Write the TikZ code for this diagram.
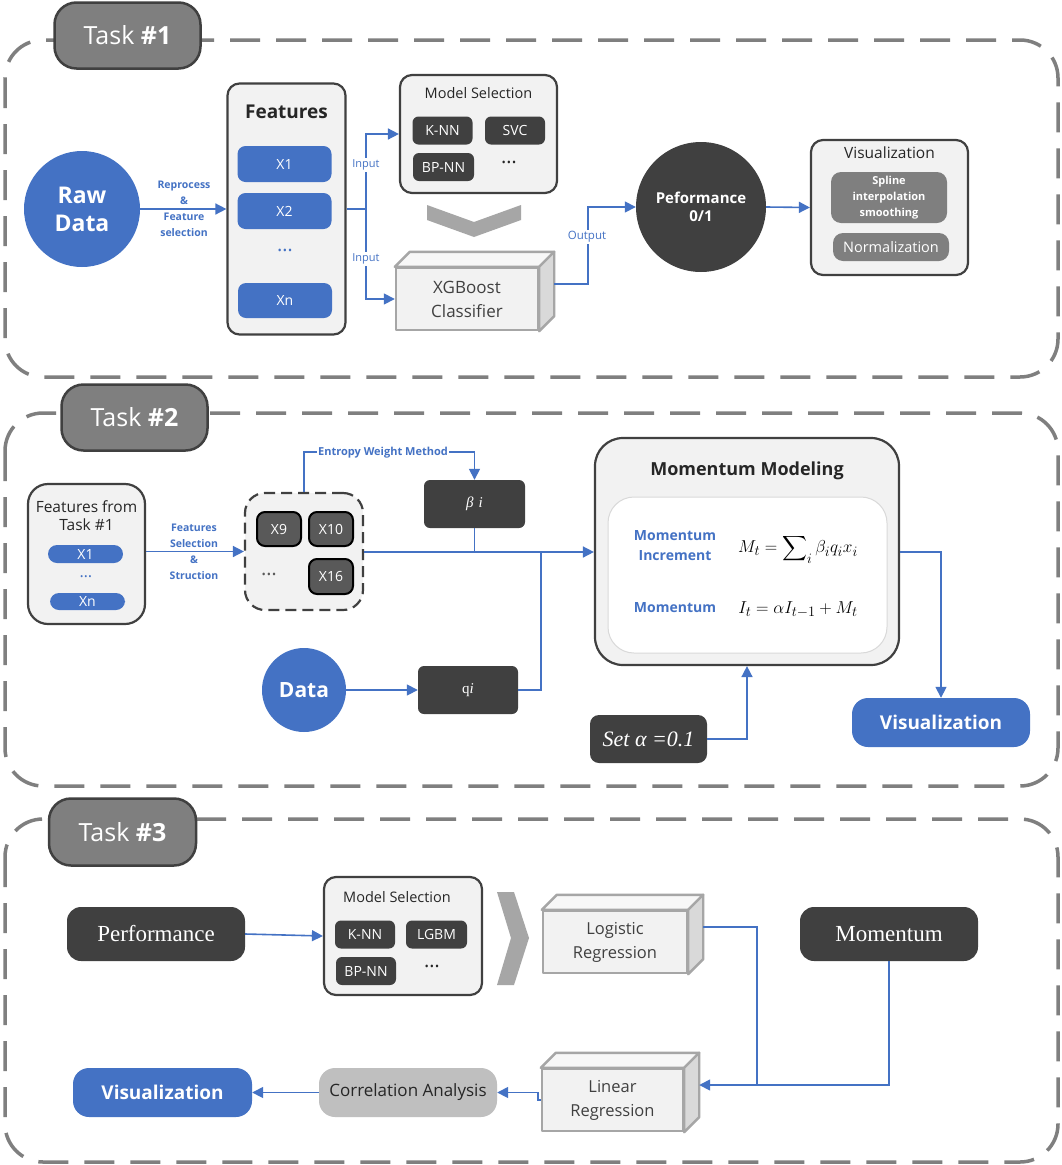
\documentclass[tikz,border=0pt]{standalone}
\usepackage{amsmath}
\usepackage{fontspec}
\setmainfont{Open Sans}
\newfontfamily\serifface{Liberation Serif}
\usetikzlibrary{arrows.meta}
\definecolor{cblue}{HTML}{4472C4}
\definecolor{cdark}{HTML}{404040}
\definecolor{clight}{HTML}{F2F2F2}
\definecolor{cgray}{HTML}{7F7F7F}
\definecolor{cmid}{HTML}{A6A6A6}
\definecolor{ctop}{HTML}{F7F7F7}
\definecolor{cside}{HTML}{D9D9D9}
\definecolor{cinner}{HTML}{595959}
\definecolor{ccorr}{HTML}{BFBFBF}
\definecolor{ctext}{HTML}{262626}
\newcommand\fsz[2]{\fontsize{#1}{#2}\selectfont}
\newcommand\cubesides[1]{%
  \draw[cubeedge, fill=ctop] (#1.north west) -- ++(15,-15) -- ([shift={(15,-15)}]#1.north east) -- (#1.north east) -- cycle;
  \draw[cubeedge, fill=cside] (#1.north east) -- ([shift={(15,-15)}]#1.north east) -- ([shift={(15,-15)}]#1.south east) -- (#1.south east) -- cycle;}
\begin{document}
\begin{tikzpicture}[x=1pt,y=-1pt,
  frame/.style={draw=cgray, line width=3.5pt, dash pattern=on 30pt off 16pt, rounded corners=38pt},
  tasklbl/.style={draw=cdark, fill=cgray, line width=2.5pt, rounded corners=22pt, text=white, font=\fsz{25}{30}, minimum width=146pt, minimum height=66pt, inner sep=0pt},
  conn/.style={draw=cblue, line width=1.6pt},
  arr/.style={conn, -{Triangle[length=11pt,width=11pt]}},
  panel/.style={draw=cdark, fill=clight, line width=2.2pt, rounded corners=12pt, inner sep=0pt},
  bluebox/.style={fill=cblue, text=white, rounded corners=8pt, inner sep=0pt, font=\fsz{14}{16}},
  darkbox/.style={fill=cdark, text=white, rounded corners=6pt, inner sep=0pt},
  ttl/.style={text=ctext, inner sep=0pt, align=center},
  lbl/.style={text=cblue, inner sep=1.5pt, align=center, font=\fsz{10.5}{16}\bfseries},
  cubeedge/.style={draw=cmid, line width=2.4pt, line join=round},
  cubefront/.style={cubeedge, fill=clight, inner sep=0pt, text=cdark, align=center, font=\fsz{17}{24}},
  dotsn/.style={inner sep=0pt, font=\fsz{20}{20}}
]
\fill[white] (0,0) rectangle (1061,1165);
\useasboundingbox (0,0) rectangle (1061,1165);

%================ Task 1
\draw[frame] (5,40) rectangle (1058,377);
\node[tasklbl] (t1) at (127.5,35.5) {Task \textbf{\#1}};

\node[circle, fill=cblue, minimum size=116pt, inner sep=0pt, text=white, align=center, font=\fsz{23}{28}\bfseries] (raw) at (82,209) {Raw\\Data};

\node[panel, minimum width=118pt, minimum height=251pt] (feat) at (286.5,209) {};
\node[ttl, font=\fsz{19}{22}\bfseries] (featt) at (286.5,112) {Features};
\node[bluebox, minimum width=94pt, minimum height=36pt] (fx1) at (284.5,164) {X1};
\node[bluebox, minimum width=94pt, minimum height=36pt] (fx2) at (284.5,211) {X2};
\node[dotsn, text=cblue] (fdots) at (285,250) {…};
\node[bluebox, minimum width=94pt, minimum height=35pt] (fxn) at (285,300.5) {Xn};

\node[panel, minimum width=157pt, minimum height=118pt] (ms) at (478.5,134) {};
\node[ttl, font=\fsz{14.5}{16}] (mst) at (478.5,93) {Model Selection};
\node[darkbox, minimum width=60pt, minimum height=28pt, font=\fsz{14}{16}] (knn) at (442.5,130.5) {K-NN};
\node[darkbox, minimum width=60pt, minimum height=28pt, font=\fsz{14}{16}] (svc) at (515,130.5) {SVC};
\node[darkbox, minimum width=61pt, minimum height=28pt, font=\fsz{14}{16}] (bpnn) at (443.5,167) {BP-NN};
\node[dotsn, text=ctext] (msdots) at (509,162) {…};

\fill[cmid] (427,205) -- (474,222) -- (521,205) -- (521,220) -- (474,237) -- (427,220) -- cycle;

\node[cubefront, minimum width=142pt, minimum height=62pt] (xgb) at (467,299) {XGBoost\\Classifier};
\cubesides{xgb}

\node[circle, fill=cdark, minimum size=130pt, inner sep=0pt, text=white, align=center, font=\fsz{15}{18}\bfseries] (perf) at (701,207) {Peformance\\0/1};

\node[panel, minimum width=157pt, minimum height=135pt] (vis) at (889.5,207.5) {};
\node[ttl, font=\fsz{15.5}{18}] (vist) at (889.5,153) {Visualization};
\node[fill=cgray, rounded corners=10pt, minimum width=116pt, minimum height=51pt, inner sep=0pt, text=white, align=center, font=\fsz{11}{16}\bfseries] (spl) at (889,197.5) {Spline\\interpolation\\smoothing};
\node[fill=cgray, rounded corners=10pt, minimum width=116pt, minimum height=28pt, inner sep=0pt, text=white, font=\fsz{14.5}{16}] (norm) at (891,247) {Normalization};

\coordinate (j1) at (366,209);
\draw[arr] (raw.east) -- (feat.west |- raw.east);
\node[lbl] (rplbl) at (184,209) {Reprocess\\\&\\Feature\\selection};
\draw[conn] (feat.east |- j1) -- (j1);
\draw[arr] (j1) |- (ms.west);
\draw[arr] (j1) |- (xgb.west);
\node[lbl, fill=white, font=\fsz{11}{13}] (in1) at (366,165) {Input};
\node[lbl, fill=white, font=\fsz{11}{13}] (in2) at (366,259) {Input};
\draw[arr] ([shift={(15,-15)}]xgb.east) -- ++(34,0) |- (perf.west);
\node[lbl, fill=white, font=\fsz{11.5}{13}] (outl) at (587,237) {Output};
\draw[arr] (perf.east) -- (vis.west);

%================ Task 2
\draw[frame] (5,413) rectangle (1058,786);
\node[tasklbl] (t2) at (134.5,417.5) {Task \textbf{\#2}};

\node[panel, rounded corners=20pt, minimum width=117pt, minimum height=140pt] (ff) at (86.5,554) {};
\node[ttl, font=\fsz{15.5}{18}] (fft) at (86.5,515.5) {Features from\\Task \#1};
\node[bluebox, rounded corners=9pt, minimum width=75pt, minimum height=18pt] (ffx1) at (85.5,554) {X1};
\node[dotsn, text=cblue, font=\fsz{16}{16}] (ffdots) at (86,577) {…};
\node[bluebox, rounded corners=9pt, minimum width=75pt, minimum height=17pt] (ffxn) at (87.5,601.5) {Xn};

\node[fill=clight, draw=cdark, line width=2.2pt, dash pattern=on 11pt off 6pt, rounded corners=20pt, minimum width=118pt, minimum height=117pt, inner sep=0pt] (ds) at (304,551.5) {};
\node[fill=cinner, draw=black, line width=2pt, rounded corners=8pt, minimum width=44pt, minimum height=34pt, inner sep=0pt, text=white, font=\fsz{14}{16}] (x9) at (279,529) {X9};
\node[fill=cinner, draw=black, line width=2pt, rounded corners=8pt, minimum width=44pt, minimum height=34pt, inner sep=0pt, text=white, font=\fsz{14}{16}] (x10) at (331,529) {X10};
\node[fill=cinner, draw=black, line width=2pt, rounded corners=8pt, minimum width=44pt, minimum height=35pt, inner sep=0pt, text=white, font=\fsz{14}{16}] (x16) at (331,576.5) {X16};
\node[dotsn, text=cinner] (dsdots) at (269,574) {…};

\node[darkbox, minimum width=101pt, minimum height=48pt, font=\serifface\itshape\fsz{15}{16}] (beta) at (474.5,504) {β\,\,i};
\node[circle, fill=cblue, minimum size=84pt, inner sep=0pt, text=white, font=\fsz{21}{24}\bfseries] (data) at (304,690) {Data};
\node[darkbox, minimum width=100pt, minimum height=48pt, font=\serifface\fsz{15}{16}] (qi) at (468,690) {q\textit{i}};

\node[panel, rounded corners=28pt, minimum width=304pt, minimum height=227pt] (mm) at (747,551.5) {};
\node[ttl, font=\fsz{18}{22}\bfseries] (mmt) at (747,471) {Momentum Modeling};
\node[draw=cside, fill=white, line width=1pt, rounded corners=26pt, minimum width=279pt, minimum height=156pt, inner sep=0pt] (mmin) at (747.5,575) {};
\node[lbl, font=\fsz{14}{20}\bfseries] (mincl) at (675,546) {Momentum\\Increment};
\node[inner sep=0pt, font=\fsz{19}{22}] (f1) at (798,549) {$M_t = \displaystyle\sum\nolimits_i \beta_i q_i x_i$};
\node[lbl, font=\fsz{14}{20}\bfseries] (moml) at (675,608) {Momentum};
\node[inner sep=0pt, font=\fsz{19}{22}] (f2) at (798,610) {$I_t = \alpha I_{t-1} + M_t$};

\node[fill=cblue, rounded corners=16pt, minimum width=178pt, minimum height=49pt, inner sep=0pt, text=white, font=\fsz{19}{22}\bfseries] (vis2) at (941,722.5) {Visualization};
\node[darkbox, rounded corners=9pt, minimum width=117pt, minimum height=48pt, font=\serifface\itshape\fsz{22}{24}] (alpha) at (648.5,739) {Set α =0.1};

\draw[arr] (ff.east |- ds.east) -- (ds.west);
\node[lbl] (fslbl) at (194,552) {Features\\Selection\\\&\\Struction};
\draw[arr] (ds.north) -- ++(0,-40) -| (beta.north);
\node[lbl, fill=white, font=\fsz{11}{13}\bfseries] (ewm) at (383,453) {Entropy Weight Method};
\coordinate (j2) at (474.5,552);
\coordinate (j3) at (541,552);
\draw[arr] (ds.east |- j2) -- (mm.west |- j2);
\draw[conn] (beta.south) -- (j2);
\draw[arr] (data.east) -- (qi.west);
\draw[conn] (qi.east) -| (j3);
\draw[arr] (mm.east |- j2) -| (vis2.north);
\draw[arr] (alpha.east) -| (mm.south);

%================ Task 3
\draw[frame] (5,819) rectangle (1058,1162);
\node[tasklbl, minimum width=147pt, minimum height=67pt] (t3) at (122.5,832) {Task \textbf{\#3}};

\node[darkbox, rounded corners=14pt, minimum width=178pt, minimum height=54pt, font=\serifface\fsz{23}{26}] (perf3) at (156,934) {Performance};
\node[panel, minimum width=158pt, minimum height=118pt] (ms3) at (403,936) {};
\node[ttl, font=\fsz{14.5}{16}] (ms3t) at (397,897) {Model Selection};
\node[darkbox, minimum width=60pt, minimum height=28pt, font=\fsz{14}{16}] (knn3) at (365,934.5) {K-NN};
\node[darkbox, minimum width=61pt, minimum height=28pt, font=\fsz{14}{16}] (lgbm) at (436.5,934.5) {LGBM};
\node[darkbox, minimum width=60pt, minimum height=28pt, font=\fsz{14}{16}] (bpnn3) at (366,971) {BP-NN};
\node[dotsn, text=ctext] (ms3dots) at (432,966) {…};

\fill[cmid] (497,892) -- (514,892) -- (529,938) -- (514,985) -- (497,985) -- (511,938) -- cycle;

\node[cubefront, minimum width=144pt, minimum height=62pt, font=\fsz{16.5}{24}] (logi) at (615,942) {Logistic\\Regression};
\cubesides{logi}
\node[darkbox, rounded corners=14pt, minimum width=178pt, minimum height=54pt, font=\serifface\fsz{23}{26}] (mom3) at (889,934) {Momentum};
\node[cubefront, minimum width=141pt, minimum height=62pt, font=\fsz{16.5}{24}] (lin) at (612.5,1100) {Linear\\Regression};
\cubesides{lin}
\node[fill=ccorr, rounded corners=16pt, minimum width=178pt, minimum height=49pt, inner sep=0pt, text=ctext, font=\fsz{17}{20}] (corr) at (408,1092.5) {Correlation Analysis};
\node[fill=cblue, rounded corners=16pt, minimum width=179pt, minimum height=49pt, inner sep=0pt, text=white, font=\fsz{19}{22}\bfseries] (vis3) at (162.5,1092.5) {Visualization};

\coordinate (j4) at (757,1085);
\draw[arr] (perf3.east) -- (ms3.west);
\draw[conn] ([shift={(15,-15)}]logi.east) -| (j4);
\draw[arr] (mom3.south) |- ([shift={(15,-15)}]lin.east);
\draw[arr] (lin.west) -- ++(-3,0) |- (corr.east);
\draw[arr] (corr.west) -- (vis3.east);
\end{tikzpicture}
\end{document}
